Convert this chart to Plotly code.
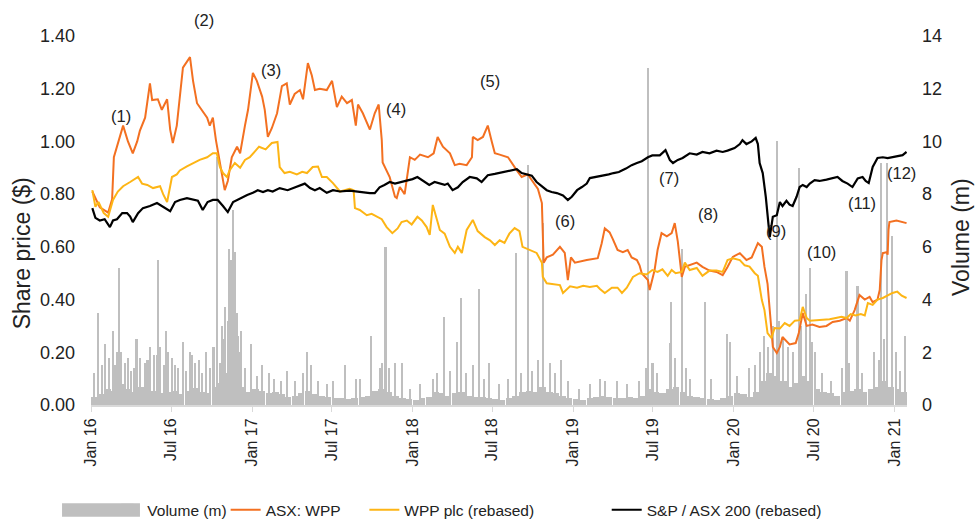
import pandas as pd
import plotly.graph_objects as go

# ---------------- data ----------------
# ASX: WPP share price ($)
wpp_asx_dates = [
    "2016-01-04","2016-01-21","2016-02-09","2016-02-18","2016-02-22","2016-03-02","2016-03-14","2016-03-25",
    "2016-04-05","2016-04-15","2016-04-21","2016-05-03","2016-05-14","2016-05-19","2016-06-01","2016-06-10",
    "2016-06-22","2016-06-29","2016-07-05","2016-07-14","2016-07-21","2016-07-28","2016-08-13","2016-08-20",
    "2016-08-29","2016-09-09","2016-09-21","2016-09-27","2016-10-04","2016-10-11","2016-10-16","2016-10-25",
    "2016-10-31","2016-11-07","2016-11-16","2016-11-28","2016-12-05","2016-12-16","2016-12-23","2017-01-03",
    "2017-01-12","2017-01-24","2017-01-30","2017-02-06","2017-02-15","2017-02-27","2017-03-10","2017-03-21",
    "2017-03-28","2017-04-08","2017-04-20","2017-04-27","2017-05-08","2017-05-17","2017-05-24","2017-06-04",
    "2017-06-20","2017-07-02","2017-07-13","2017-07-24","2017-08-05","2017-08-16","2017-08-25","2017-08-30",
    "2017-09-10","2017-09-26","2017-10-07","2017-10-16","2017-10-23","2017-10-25","2017-11-10","2017-11-22",
    "2017-11-26","2017-12-03","2017-12-14","2017-12-26","2018-01-06","2018-01-18","2018-02-05","2018-02-18",
    "2018-02-27","2018-03-11","2018-03-27","2018-04-07","2018-04-18","2018-05-04","2018-05-16","2018-05-18",
    "2018-05-29","2018-06-10","2018-06-21","2018-06-30","2018-07-07","2018-07-18","2018-08-06","2018-08-26",
    "2018-09-06","2018-09-20","2018-10-01","2018-10-13","2018-10-22","2018-10-26","2018-11-02","2018-11-16",
    "2018-12-02","2018-12-13","2018-12-20","2018-12-27","2019-01-05","2019-01-16","2019-02-01","2019-02-26",
    "2019-03-07","2019-03-14","2019-03-25","2019-04-01","2019-04-12","2019-04-24","2019-05-05","2019-05-14",
    "2019-05-26","2019-06-01","2019-06-06","2019-06-20","2019-06-24","2019-07-05","2019-07-12","2019-07-21",
    "2019-08-02","2019-08-13","2019-08-20","2019-08-27","2019-09-05","2019-09-12","2019-09-23","2019-10-09",
    "2019-10-22","2019-11-07","2019-11-23","2019-12-07","2019-12-18","2019-12-30","2020-01-15","2020-01-30",
    "2020-02-11","2020-02-25","2020-03-05","2020-03-11","2020-03-18","2020-03-25","2020-03-30","2020-04-08",
    "2020-04-15","2020-04-21","2020-04-30","2020-05-07","2020-05-21","2020-05-28","2020-06-06","2020-06-15",
    "2020-06-28","2020-07-14","2020-07-30","2020-08-13","2020-08-29","2020-09-14","2020-09-21","2020-10-02",
    "2020-10-13","2020-10-25","2020-11-05","2020-11-12","2020-11-23","2020-11-28","2020-12-02","2020-12-05",
    "2020-12-14","2020-12-16","2020-12-18","2020-12-20","2021-01-05","2021-01-28"]
wpp_asx_values = [
    0.81,0.75,0.73,0.78,0.94,0.99,1.06,1.00,
    0.955,1.00,1.04,1.09,1.22,1.157,1.16,1.12,
    1.16,1.045,0.994,1.06,1.18,1.28,1.32,1.23,
    1.145,1.12,1.09,1.06,1.09,1.005,0.955,0.865,
    0.815,0.85,0.94,0.98,0.955,1.06,1.12,1.26,
    1.23,1.17,1.12,1.017,1.05,1.107,1.21,1.22,
    1.14,1.18,1.195,1.16,1.297,1.25,1.195,1.20,
    1.195,1.23,1.13,1.17,1.145,1.157,1.06,1.14,
    1.107,1.045,1.107,1.14,1.005,0.92,0.865,0.79,
    0.785,0.827,0.80,0.94,0.93,0.95,0.94,0.955,
    1.017,0.98,0.955,0.91,0.915,0.91,0.94,1.017,
    1.005,1.017,1.06,1.00,0.955,0.95,0.94,0.89,
    0.865,0.875,0.85,0.82,0.766,0.54,0.56,0.57,
    0.60,0.577,0.474,0.56,0.54,0.545,0.55,0.557,
    0.614,0.67,0.655,0.63,0.588,0.58,0.588,0.56,
    0.55,0.53,0.50,0.474,0.436,0.51,0.588,0.652,
    0.64,0.652,0.69,0.62,0.486,0.524,0.53,0.54,
    0.524,0.51,0.505,0.493,0.524,0.562,0.576,0.55,
    0.56,0.614,0.60,0.524,0.46,0.30,0.22,0.197,
    0.22,0.258,0.24,0.23,0.235,0.273,0.349,0.30,
    0.305,0.296,0.30,0.315,0.32,0.33,0.32,0.36,
    0.417,0.40,0.41,0.39,0.40,0.436,0.55,0.576,
    0.58,0.57,0.664,0.694,0.70,0.69]

# WPP plc (rebased)
wpp_plc_dates = [
    "2016-01-04","2016-01-11","2016-01-18","2016-01-30","2016-02-09","2016-02-20","2016-03-02","2016-03-14",
    "2016-03-30","2016-04-17","2016-04-26","2016-05-08","2016-05-21","2016-06-06","2016-06-13","2016-06-22",
    "2016-06-29","2016-07-03","2016-07-14","2016-07-21","2016-08-06","2016-08-20","2016-09-04","2016-09-21",
    "2016-10-04","2016-10-13","2016-10-20","2016-10-27","2016-11-05","2016-11-11","2016-11-23","2016-12-05",
    "2016-12-16","2016-12-27","2017-01-17","2017-02-01","2017-02-15","2017-02-28","2017-03-05","2017-03-16",
    "2017-03-28","2017-04-13","2017-04-25","2017-05-06","2017-05-19","2017-05-31","2017-06-09","2017-06-20",
    "2017-07-04","2017-07-20","2017-07-31","2017-08-11","2017-08-20","2017-08-23","2017-09-03","2017-09-19",
    "2017-09-30","2017-10-12","2017-10-23","2017-11-03","2017-11-16","2017-11-28","2017-12-07","2017-12-19",
    "2017-12-30","2018-01-12","2018-01-22","2018-02-02","2018-02-09","2018-02-16","2018-02-25","2018-03-04",
    "2018-03-15","2018-03-27","2018-04-07","2018-04-14","2018-04-23","2018-05-04","2018-05-18","2018-05-29",
    "2018-06-14","2018-06-26","2018-07-07","2018-07-18","2018-07-29","2018-08-09","2018-08-21","2018-09-01",
    "2018-09-08","2018-09-24","2018-10-10","2018-10-22","2018-10-24","2018-11-02","2018-11-16","2018-12-02",
    "2018-12-09","2018-12-25","2019-01-10","2019-01-24","2019-02-08","2019-02-24","2019-03-03","2019-03-14",
    "2019-03-30","2019-04-12","2019-04-22","2019-05-03","2019-05-17","2019-06-01","2019-06-17","2019-06-30",
    "2019-07-12","2019-07-23","2019-08-04","2019-08-13","2019-08-22","2019-09-05","2019-09-12","2019-09-23",
    "2019-10-09","2019-10-22","2019-11-07","2019-11-23","2019-12-07","2019-12-18","2019-12-30","2020-01-15",
    "2020-01-26","2020-02-06","2020-02-18","2020-02-25","2020-03-05","2020-03-11","2020-03-18","2020-03-27",
    "2020-04-03","2020-04-15","2020-04-26","2020-05-07","2020-05-19","2020-05-30","2020-06-06","2020-06-15",
    "2020-06-22","2020-07-07","2020-07-21","2020-08-06","2020-08-20","2020-09-02","2020-09-14","2020-09-23",
    "2020-10-04","2020-10-16","2020-10-25","2020-11-01","2020-11-12","2020-11-23","2020-12-05","2020-12-16",
    "2020-12-27","2021-01-07","2021-01-17","2021-01-28"]
wpp_plc_values = [
    0.815,0.752,0.77,0.728,0.714,0.778,0.81,0.83,
    0.846,0.865,0.84,0.835,0.823,0.83,0.80,0.77,
    0.83,0.865,0.875,0.89,0.905,0.918,0.93,0.94,
    0.955,0.955,0.903,0.88,0.865,0.89,0.918,0.90,
    0.93,0.94,0.98,0.97,0.994,0.998,0.903,0.88,
    0.885,0.875,0.885,0.88,0.903,0.905,0.865,0.865,
    0.842,0.81,0.815,0.82,0.815,0.747,0.74,0.72,
    0.725,0.715,0.705,0.675,0.652,0.67,0.694,0.70,
    0.685,0.714,0.70,0.675,0.645,0.759,0.71,0.664,
    0.65,0.60,0.577,0.60,0.577,0.664,0.702,0.66,
    0.637,0.625,0.607,0.625,0.615,0.65,0.671,0.66,
    0.60,0.59,0.577,0.54,0.486,0.462,0.46,0.455,
    0.425,0.45,0.445,0.452,0.448,0.452,0.44,0.425,
    0.445,0.445,0.425,0.445,0.486,0.50,0.495,0.512,
    0.505,0.515,0.49,0.512,0.50,0.505,0.54,0.512,
    0.52,0.49,0.51,0.51,0.505,0.55,0.557,0.55,
    0.53,0.525,0.50,0.49,0.398,0.36,0.273,0.254,
    0.292,0.29,0.311,0.30,0.32,0.322,0.372,0.33,
    0.32,0.322,0.322,0.325,0.33,0.335,0.33,0.345,
    0.34,0.345,0.34,0.387,0.38,0.40,0.406,0.415,
    0.425,0.43,0.415,0.406]

# S&P / ASX 200 (rebased)
asx200_dates = [
    "2016-01-04","2016-01-11","2016-01-21","2016-02-01","2016-02-13","2016-02-20","2016-02-29","2016-03-12",
    "2016-03-23","2016-03-30","2016-04-05","2016-04-17","2016-04-28","2016-05-14","2016-05-30","2016-06-10",
    "2016-06-22","2016-06-29","2016-07-10","2016-07-21","2016-08-06","2016-08-20","2016-08-31","2016-09-11",
    "2016-09-22","2016-10-04","2016-10-15","2016-10-27","2016-11-07","2016-11-19","2016-12-05","2016-12-21",
    "2017-01-03","2017-01-14","2017-01-26","2017-02-06","2017-02-17","2017-03-05","2017-03-23","2017-04-08",
    "2017-04-20","2017-05-01","2017-05-13","2017-05-24","2017-06-04","2017-06-20","2017-07-04","2017-07-20",
    "2017-08-11","2017-08-27","2017-09-10","2017-09-26","2017-10-07","2017-10-18","2017-10-29","2017-11-10",
    "2017-11-22","2017-12-07","2017-12-21","2018-01-01","2018-01-12","2018-01-23","2018-02-08","2018-02-20",
    "2018-03-04","2018-03-15","2018-03-22","2018-04-02","2018-04-14","2018-04-25","2018-05-11","2018-05-27",
    "2018-06-07","2018-06-21","2018-07-07","2018-07-25","2018-08-10","2018-08-26","2018-09-06","2018-09-18",
    "2018-09-29","2018-10-10","2018-10-22","2018-11-02","2018-11-13","2018-11-25","2018-12-09","2018-12-20",
    "2018-12-29","2019-01-10","2019-01-21","2019-02-01","2019-02-08","2019-02-22","2019-03-07","2019-03-23",
    "2019-04-03","2019-04-15","2019-05-01","2019-05-14","2019-05-26","2019-06-06","2019-06-20","2019-06-30",
    "2019-07-17","2019-07-30","2019-08-09","2019-08-16","2019-08-27","2019-09-07","2019-09-23","2019-10-09",
    "2019-10-22","2019-11-07","2019-11-23","2019-12-07","2019-12-18","2020-01-03","2020-01-15","2020-01-21",
    "2020-01-30","2020-02-11","2020-02-20","2020-02-25","2020-02-29","2020-03-07","2020-03-14","2020-03-18",
    "2020-03-23","2020-03-30","2020-04-08","2020-04-15","2020-04-21","2020-04-30","2020-05-07","2020-05-14",
    "2020-05-23","2020-05-30","2020-06-06","2020-06-15","2020-06-22","2020-07-03","2020-07-14","2020-07-30",
    "2020-08-13","2020-08-24","2020-09-04","2020-09-16","2020-09-27","2020-10-09","2020-10-20","2020-10-27",
    "2020-11-03","2020-11-12","2020-11-23","2020-12-05","2020-12-16","2020-12-27","2021-01-07","2021-01-19",
    "2021-01-28"]
asx200_values = [
    0.747,0.71,0.70,0.705,0.675,0.70,0.705,0.728,
    0.728,0.715,0.694,0.728,0.747,0.755,0.766,0.755,
    0.745,0.735,0.77,0.778,0.785,0.778,0.775,0.74,
    0.77,0.778,0.778,0.755,0.732,0.77,0.785,0.797,
    0.805,0.815,0.808,0.815,0.81,0.823,0.815,0.826,
    0.835,0.84,0.823,0.815,0.823,0.805,0.815,0.81,
    0.813,0.81,0.806,0.804,0.804,0.826,0.835,0.846,
    0.84,0.846,0.853,0.857,0.865,0.853,0.835,0.846,
    0.84,0.835,0.84,0.815,0.826,0.846,0.865,0.86,
    0.846,0.872,0.877,0.884,0.89,0.895,0.88,0.876,
    0.87,0.846,0.83,0.815,0.808,0.804,0.795,0.778,
    0.79,0.815,0.827,0.84,0.861,0.865,0.87,0.875,
    0.88,0.884,0.897,0.91,0.918,0.925,0.94,0.947,
    0.947,0.967,0.929,0.918,0.93,0.937,0.955,0.95,
    0.96,0.955,0.965,0.96,0.965,0.975,0.99,1.005,
    0.99,1.00,1.013,0.99,0.918,0.88,0.79,0.73,
    0.637,0.714,0.72,0.77,0.755,0.775,0.76,0.755,
    0.79,0.827,0.835,0.827,0.84,0.853,0.85,0.855,
    0.86,0.865,0.85,0.84,0.827,0.86,0.865,0.85,
    0.842,0.903,0.937,0.94,0.937,0.94,0.945,0.948,
    0.96]

# Volume (m): half-monthly typical level, starting 2016-01-01
vol_base_values = [
    0.3,0.4,0.6,0.55,0.8,0.6,0.5,0.7,0.9,0.55,0.45,0.5,0.55,0.4,0.55,0.65,0.5,0.45,0.7,0.85,1.2,1.0,0.7,0.5,
    0.6,0.55,0.45,0.5,0.4,0.3,0.35,0.45,0.55,0.4,0.35,0.3,0.25,0.25,0.22,0.25,0.3,0.35,0.55,0.6,0.5,0.35,0.25,0.22,
    0.2,0.25,0.3,0.5,0.45,0.35,0.45,0.5,0.35,0.3,0.3,0.25,0.22,0.2,0.25,0.35,0.5,0.55,0.5,0.7,0.5,0.45,0.35,0.25,
    0.22,0.2,0.25,0.3,0.35,0.3,0.25,0.25,0.3,0.25,0.35,0.6,0.5,0.45,0.6,0.7,0.5,0.35,0.3,0.25,0.22,0.2,0.25,0.35,
    0.45,0.4,0.3,0.5,0.9,1.2,1.1,0.9,0.7,0.85,1.1,0.9,0.6,0.5,0.45,0.35,0.5,0.55,0.6,0.5,0.6,0.7,0.9,0.7,
    0.6,0.5]
# Volume (m): individual trading-day spikes
vol_spike_dates = [
    "2016-01-08","2016-01-17","2016-01-26","2016-02-02","2016-02-12","2016-02-20","2016-02-25","2016-03-01",
    "2016-03-05","2016-03-10","2016-03-18","2016-03-25","2016-04-01","2016-04-08","2016-04-14","2016-04-21",
    "2016-05-03","2016-05-09","2016-05-14","2016-05-24","2016-05-31","2016-06-01","2016-06-07","2016-06-15",
    "2016-06-19","2016-06-24","2016-07-04","2016-07-10","2016-07-18","2016-07-28","2016-08-05","2016-08-13",
    "2016-08-18","2016-08-25","2016-09-02","2016-09-10","2016-09-19","2016-09-27","2016-10-06","2016-10-13",
    "2016-10-20","2016-10-26","2016-10-31","2016-11-02","2016-11-07","2016-11-10","2016-11-14","2016-11-19",
    "2016-11-23","2016-11-28","2016-11-30","2016-12-05","2016-12-08","2016-12-16","2016-12-30","2017-01-12",
    "2017-01-25","2017-02-10","2017-02-20","2017-03-09","2017-03-22","2017-04-10","2017-04-27","2017-05-06",
    "2017-05-15","2017-06-01","2017-06-22","2017-07-04","2017-08-02","2017-08-25","2017-09-03","2017-09-28",
    "2017-10-20","2017-10-25","2017-11-01","2017-11-08","2017-11-22","2017-12-08","2017-12-26","2018-01-18",
    "2018-02-16","2018-02-27","2018-03-15","2018-03-28","2018-04-12","2018-04-21","2018-05-04","2018-05-18",
    "2018-06-01","2018-06-12","2018-06-25","2018-07-18","2018-08-06","2018-08-24","2018-09-06","2018-09-21",
    "2018-10-01","2018-10-13","2018-10-26","2018-11-09","2018-11-22","2018-12-06","2018-12-20","2019-01-16",
    "2019-02-08","2019-03-03","2019-03-14","2019-04-12","2019-05-05","2019-06-01","2019-06-17","2019-06-20",
    "2019-07-01","2019-07-12","2019-08-09","2019-08-13","2019-08-22","2019-09-07","2019-09-15","2019-09-25",
    "2019-10-29","2019-11-10","2019-12-18","2019-12-25","2020-01-10","2020-02-06","2020-02-20","2020-03-02",
    "2020-03-10","2020-03-20","2020-03-30","2020-04-08","2020-04-13","2020-04-22","2020-05-05","2020-05-15",
    "2020-05-30","2020-06-02","2020-06-14","2020-06-22","2020-06-28","2020-07-05","2020-07-20","2020-08-10",
    "2020-09-03","2020-09-14","2020-09-20","2020-10-09","2020-10-20","2020-11-16","2020-11-28","2020-12-02",
    "2020-12-09","2020-12-16","2020-12-27","2021-01-05","2021-01-13","2021-01-24"]
vol_spike_values = [
    1.2,3.5,1.5,2.3,1.8,2.8,1.5,2.0,
    5.2,2.0,1.6,1.8,1.3,1.4,2.5,1.8,
    1.6,1.7,2.2,1.9,1.9,5.5,2.2,1.5,
    2.8,2.0,1.8,1.5,1.4,2.4,1.3,2.0,
    1.9,1.6,1.7,1.2,2.0,1.4,2.2,9.4,
    1.6,3.0,2.5,3.7,3.2,5.9,5.5,7.4,
    5.8,3.5,2.6,2.0,2.8,1.4,2.3,1.1,
    1.5,1.2,1.0,0.9,1.3,0.9,1.2,2.0,
    1.5,0.9,0.8,0.9,1.5,1.0,1.0,2.6,
    1.4,1.6,6.0,1.4,1.6,1.6,0.6,0.8,
    1.0,1.2,3.35,1.3,2.4,4.05,1.2,1.5,
    4.4,1.0,1.6,0.8,1.0,5.75,1.2,9.1,
    1.3,1.7,6.9,1.6,1.2,1.7,0.9,0.6,
    0.8,1.0,0.9,0.9,0.8,0.9,1.4,12.8,
    1.6,1.2,2.35,3.9,1.8,5.9,1.4,1.0,
    3.9,1.0,2.7,2.4,1.1,1.4,1.5,2.0,
    2.6,2.2,3.0,10.0,3.2,2.5,2.2,2.0,
    9.0,3.0,4.2,5.2,2.4,2.0,1.2,0.9,
    1.4,5.1,1.6,4.5,1.2,2.0,1.7,9.2,
    2.5,9.2,6.4,2.0,1.3,2.6]

# Event markers (label, date, share-price level)
note_labels = ["(1)","(2)","(3)","(4)","(5)","(6)","(7)","(8)","(9)","(10)","(11)","(12)"]
note_dates = ["2016-03-09","2016-09-14","2017-02-14","2017-11-25","2018-06-25","2018-12-14",
              "2019-08-07","2019-11-03","2020-04-06","2020-07-19","2020-10-19","2021-01-17"]
note_values = [1.096,1.46,1.27,1.123,1.228,0.70,0.862,0.725,0.66,0.58,0.766,0.88]

# x tick labels
tick_dates = pd.date_range("2016-01-01", "2021-01-01", freq="6MS")
tick_labels = [d.strftime("%b %y") for d in tick_dates]

PRICE_MAX = 1.4
VOL_MAX = 14

# ---------------- figure ----------------
DAY = 86400000
FONT = "Liberation Sans, Arial, sans-serif"
GRAY = "#BFBFBF"
TXT = "#222222"
base_dates = pd.date_range("2016-01-01", periods=len(vol_base_values), freq="SMS")

fig = go.Figure()
fig.add_trace(go.Bar(x=base_dates, y=vol_base_values, name="Volume (m)",
                     marker=dict(color=GRAY, line=dict(width=0)),
                     width=15.3 * DAY, offset=0, yaxis="y", legend="legend"))
fig.add_trace(go.Bar(x=pd.to_datetime(vol_spike_dates), y=vol_spike_values, name="Volume (m)",
                     marker=dict(color=GRAY, line=dict(width=0)),
                     width=3.5 * DAY, offset=-1.75 * DAY, yaxis="y", showlegend=False))
fig.add_trace(go.Scatter(x=pd.to_datetime(wpp_asx_dates), y=wpp_asx_values, name="ASX: WPP",
                         mode="lines", line=dict(color="#F37021", width=2), yaxis="y2", legend="legend2"))
fig.add_trace(go.Scatter(x=pd.to_datetime(wpp_plc_dates), y=wpp_plc_values, name="WPP plc (rebased)",
                         mode="lines", line=dict(color="#FDB515", width=2), yaxis="y2", legend="legend3"))
fig.add_trace(go.Scatter(x=pd.to_datetime(asx200_dates), y=asx200_values, name="S&P / ASX 200 (rebased)",
                         mode="lines", line=dict(color="#000000", width=2.2), yaxis="y2", legend="legend4"))

for lab, d, v in zip(note_labels, note_dates, note_values):
    fig.add_annotation(x=d, y=v / PRICE_MAX, xref="x", yref="paper", text=lab, showarrow=False,
                       xanchor="center", yanchor="middle",
                       font=dict(family=FONT, size=16.5, color=TXT))

# axis titles (placed as rotated text beside each axis)
fig.add_annotation(text="Share price ($)", xref="paper", yref="paper", x=-0.085, y=0.41,
                   textangle=-90, showarrow=False, xanchor="center", yanchor="middle",
                   font=dict(family=FONT, size=23, color=TXT))
fig.add_annotation(text="Volume (m)", xref="paper", yref="paper", x=1.066, y=0.455,
                   textangle=-90, showarrow=False, xanchor="center", yanchor="middle",
                   font=dict(family=FONT, size=23, color=TXT))

# wide grey swatch of the Volume legend entry (legend decoration)
fig.add_shape(type="rect", xref="paper", yref="paper", x0=-0.0355, x1=0.060, y0=-0.303, y1=-0.266,
              fillcolor=GRAY, line=dict(width=0), layer="above")

LEG_Y = -0.285
leg_common = dict(orientation="h", y=LEG_Y, yanchor="middle", xanchor="left",
                  font=dict(size=15.5, family=FONT, color=TXT), bgcolor="rgba(0,0,0,0)")

fig.update_layout(
    width=975, height=521,
    margin=dict(l=91, r=68, t=36, b=116, autoexpand=False),
    paper_bgcolor="white", plot_bgcolor="white",
    font=dict(family=FONT, size=16, color=TXT),
    barmode="overlay", bargap=0,
    showlegend=True,
    legend=dict(x=0.02, **leg_common),
    legend2=dict(x=0.165, **leg_common),
    legend3=dict(x=0.335, **leg_common),
    legend4=dict(x=0.632, **leg_common),
    xaxis=dict(type="date", range=["2016-01-01", "2021-01-29"],
               tickvals=tick_dates, ticktext=tick_labels, tickangle=-90,
               showgrid=False, zeroline=False, showline=True, linecolor="#D9D9D9", linewidth=2,
               ticks="outside", tickcolor="#D9D9D9", ticklen=5, tickfont=dict(size=16), automargin=False),
    yaxis=dict(side="right", range=[0, VOL_MAX], tickvals=list(range(0, VOL_MAX + 1, 2)),
               showgrid=False, zeroline=False, showline=False, automargin=False,
               ticklabelstandoff=14, tickfont=dict(size=18)),
    yaxis2=dict(side="left", overlaying="y", range=[0, PRICE_MAX],
                tickvals=[i * 0.2 for i in range(8)], tickformat=".2f", automargin=False,
                showgrid=False, zeroline=False, showline=False,
                ticklabelstandoff=15, tickfont=dict(size=18)),
)

fig.write_html("out.html", config={"displayModeBar": False},
               post_script="document.body.style.margin='0';document.body.style.overflow='hidden';")
